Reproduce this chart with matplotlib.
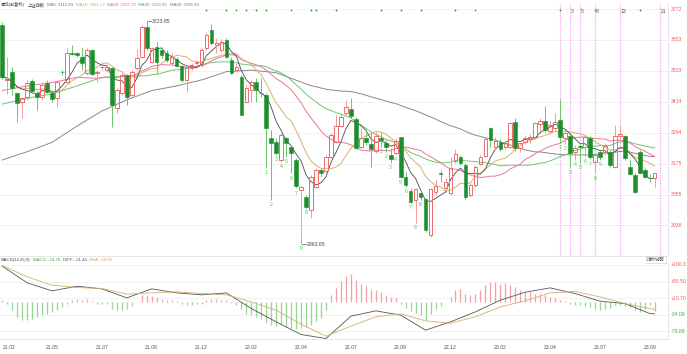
import numpy as np
import pandas as pd
import matplotlib
matplotlib.use("Agg")
import matplotlib.pyplot as plt
from matplotlib.patches import Rectangle
from matplotlib.transforms import blended_transform_factory

plt.rcParams['font.family'] = ['Liberation Sans', 'Noto Sans CJK SC', 'DejaVu Sans']

W, H, DPI = 687, 354, 100

# weekly candles, 上证指数 2021.02 - 2023.09
opens = [3712, 3497, 3530, 3446, 3414, 3434, 3494, 3449, 3434, 3488,
         3449, 3427, 3530, 3491, 3604, 3601, 3588, 3524, 3614, 3524,
         3547, 3537, 3543, 3388, 3446, 3517, 3440, 3543, 3588, 3704,
         3569, 3627, 3614, 3603, 3565, 3578, 3552, 3498, 3543, 3562,
         3556, 3620, 3691, 3633, 3614, 3652, 3575, 3537, 3511, 3414,
         3459, 3491, 3447, 3440, 3273, 3260, 3189, 3273, 3240, 3189,
         3073, 3047, 2996, 3086, 3150, 3148, 3202, 3260, 3320, 3369,
         3385, 3346, 3240, 3273, 3250, 3225, 3273, 3253, 3208, 3217,
         3276, 3125, 3070, 3034, 3063, 3037, 2900, 3067, 3140, 3080,
         3060, 3186, 3199, 3170, 3054, 3092, 3173, 3204, 3311, 3240,
         3260, 3240, 3240, 3337, 3234, 3260, 3269, 3279, 3328, 3341,
         3302, 3311, 3343, 3273, 3282, 3221, 3243, 3240, 3273, 3182,
         3221, 3221, 3221, 3163, 3280, 3282, 3163, 3131, 3221, 3150,
         3120, 3118]
highs = [3720, 3586, 3549, 3453, 3433, 3498, 3500, 3457, 3491, 3498,
         3459, 3498, 3536, 3627, 3633, 3607, 3627, 3620, 3616, 3536,
         3569, 3556, 3549, 3466, 3524, 3521, 3536, 3616, 3710, 3724,
         3627, 3646, 3627, 3614, 3601, 3588, 3556, 3556, 3562, 3575,
         3620, 3684, 3714, 3659, 3655, 3659, 3588, 3562, 3517, 3479,
         3498, 3504, 3504, 3446, 3305, 3273, 3292, 3279, 3247, 3195,
         3089, 3054, 3131, 3157, 3157, 3208, 3292, 3363, 3369, 3421,
         3427, 3356, 3311, 3292, 3292, 3298, 3295, 3266, 3234, 3273,
         3279, 3144, 3079, 3079, 3073, 3041, 3079, 3112, 3150, 3118,
         3202, 3230, 3208, 3176, 3099, 3170, 3208, 3273, 3318, 3276,
         3270, 3260, 3337, 3350, 3260, 3285, 3290, 3335, 3350, 3397,
         3340, 3369, 3423, 3300, 3290, 3247, 3253, 3282, 3282, 3221,
         3228, 3253, 3228, 3324, 3322, 3285, 3191, 3137, 3228, 3157,
         3135, 3140]
lows = [3500, 3445, 3440, 3337, 3350, 3421, 3453, 3382, 3421, 3446,
        3414, 3392, 3517, 3485, 3594, 3588, 3536, 3517, 3517, 3491,
        3536, 3530, 3318, 3369, 3440, 3401, 3434, 3536, 3582, 3614,
        3562, 3524, 3582, 3569, 3556, 3549, 3491, 3453, 3536, 3556,
        3549, 3614, 3633, 3601, 3607, 3582, 3521, 3530, 3363, 3408,
        3414, 3414, 3434, 3157, 3034, 3208, 3182, 3202, 3137, 3079,
        2864, 3002, 2964, 3079, 3125, 3144, 3195, 3253, 3318, 3363,
        3353, 3231, 3234, 3247, 3163, 3215, 3240, 3221, 3176, 3208,
        3118, 3086, 3022, 2947, 3034, 2912, 2893, 3054, 3105, 3067,
        3054, 3176, 3170, 3037, 3047, 3086, 3170, 3199, 3240, 3230,
        3225, 3230, 3234, 3225, 3220, 3250, 3255, 3270, 3300, 3298,
        3290, 3300, 3253, 3250, 3157, 3189, 3176, 3202, 3191, 3137,
        3189, 3208, 3163, 3157, 3260, 3189, 3131, 3060, 3137, 3118,
        3105, 3086]
closes = [3509, 3502, 3466, 3408, 3427, 3485, 3457, 3434, 3479, 3453,
          3423, 3491, 3527, 3601, 3598, 3596, 3562, 3614, 3521, 3530,
          3549, 3549, 3401, 3459, 3517, 3433, 3530, 3582, 3704, 3620,
          3620, 3569, 3594, 3575, 3588, 3553, 3498, 3549, 3556, 3569,
          3614, 3672, 3639, 3639, 3646, 3588, 3526, 3549, 3363, 3466,
          3491, 3459, 3446, 3314, 3253, 3215, 3285, 3253, 3215, 3090,
          3086, 3009, 3125, 3150, 3137, 3199, 3285, 3320, 3354, 3392,
          3359, 3234, 3273, 3260, 3231, 3282, 3266, 3240, 3192, 3264,
          3125, 3092, 3028, 3076, 3045, 2919, 3076, 3089, 3136, 3105,
          3157, 3212, 3176, 3047, 3092, 3160, 3199, 3269, 3266, 3263,
          3230, 3253, 3330, 3234, 3253, 3273, 3279, 3330, 3341, 3305,
          3324, 3337, 3279, 3292, 3215, 3234, 3241, 3276, 3202, 3208,
          3202, 3243, 3170, 3282, 3288, 3195, 3135, 3067, 3140, 3125,
          3118, 3137]

date_labels = ['21.02', '21.05', '21.07', '21.09', '21.12', '22.02', '22.04',
               '22.07', '22.09', '22.12', '23.02', '23.04', '23.07', '23.09']

# MA values at the left edge, read every 5 weeks (before a full window exists)
ma20_early = [3457, 3475, 3488, 3508]
ma30_early = [3405, 3427, 3444, 3475, 3508, 3513]
ma60_early = [3189, 3221, 3257, 3320, 3378, 3421, 3457, 3475, 3498, 3530, 3536, 3526]

# MACD(12,26,9): DIFF / DEA read every 5 weeks (last point = final week)
diff_vals = [97.0, 52.1, 30.5, 43.1, 35.9, 11.7, 35.9, 25.1, 19.8, 25.1, -17.1, -53.0, -87.1,
             -97.9, -37.7, -23.3, -35.0, -75.4, -53.0, -26.0, 5.4, 26.9, 38.6, 23.3, 2.7,
             -3.6, -30.5, -31.44]
dea_vals = [98.8, 68.2, 45.8, 39.5, 36.8, 21.6, 25.1, 27.8, 23.3, 19.8, 0.9, -21.6, -59.3,
            -91.6, -64.7, -39.5, -31.4, -50.3, -56.6, -39.5, -12.6, 3.6, 25.1, 28.7, 14.4,
            -3.6, -17.1, -19.05]
macd_hist = [5.4, -5.4, -21.6, -39.5, -48.5, -46.7, -44.0, -39.5, -35.0, -30.5,
             -26.0, -19.8, -12.6, -3.6, 5.4, 9.9, 7.2, 9.9, 3.6, -5.4,
             -3.6, -5.4, -17.1, -21.6, -19.8, -17.1, -10.8, 0.9, 18.9, 18.9,
             16.2, 14.4, 9.9, 7.2, 5.4, 2.7, -5.4, -8.1, -7.2, -5.4,
             -3.6, 5.4, 9.9, 9.9, 7.2, 5.4, -1.8, -8.1, -17.1, -30.5,
             -35.0, -39.5, -44.0, -55.0, -62.0, -64.0, -62.0, -66.0, -70.0, -72.0,
             -70.0, -68.0, -62.0, -52.0, -42.0, -21.6, 18.9, 39.5, 57.5, 71.8,
             75.4, 59.3, 50.3, 43.1, 34.1, 32.3, 27.8, 19.8, 14.4, 12.6,
             -5.4, -14.4, -24.2, -28.7, -33.2, -46.7, -30.5, -18.0, -9.0, 0.9,
             14.4, 32.3, 35.9, 23.3, 19.8, 23.3, 34.1, 45.8, 54.8, 54.8,
             50.3, 52.1, 45.8, 41.3, 32.3, 27.8, 27.8, 23.3, 23.3, 18.9,
             14.4, 11.7, 7.2, 2.7, -3.6, -8.1, -8.1, -10.8, -12.6, -17.1,
             -21.6, -17.1, -14.4, -8.1, -8.1, -10.8, -12.6, -21.6, -26.0, -17.1,
             -8.1, -24.78]

price_ticks = [3772, 3653, 3533, 3414, 3294, 3175, 3055, 2936]
macd_ticks = [100.3, 55.50, 10.70, -34.09, -78.89]
macd_tick_labels = ['+100.3', '+55.50', '+10.70', '-34.09', '-78.89']

signal_dots = [41, 45, 47, 49, 51, 53, 58, 62, 63, 67, 76, 80, 84, 91, 95, 112, 119, 128]
nine_starts = [53, 76, 112]
fib_start = 111
fib_steps = [1, 3, 5, 8, 13, 21]

legend_main = [('周线(前复权)', '#444444'), ('上证指数', '#444444'), ('MA5: 3112.84', '#777777'),
               ('MA10: 3161.72', '#d2a94e'), ('MA20: 3197.73', '#e8609a'),
               ('MA30: 3230.90', '#4cb84c'), ('MA60: 3196.99', '#777777')]
legend_macd = [('MACD(12,26,9)', '#444444'), ('MACD: -24.78', '#3aa83a'),
               ('DIFF: -31.44', '#555555'), ('DEA: -19.05', '#c9a24e')]

UP = '#f06a6a'
UP_WICK = '#f39a9a'
DN = '#1c8f2c'
DN_WICK = '#6cc46c'
C_MA5, C_MA10, C_MA20, C_MA30, C_MA60 = '#4a4a4a', '#d8b36a', '#ec74a4', '#6cc86c', '#8a8a8a'
GRID = '#efeff2'
FS = 3.7
FS_LEG = 3.1

n = len(closes)
ks = np.arange(n)
cl = pd.Series(closes, dtype=float)

fig = plt.figure(figsize=(W / DPI, H / DPI), dpi=DPI)


def px_axes(x0, y0, x1, y1):
    return fig.add_axes([x0 / W, 1 - y1 / H, (x1 - x0) / W, (y1 - y0) / H])


ax = px_axes(0, 3, 668, 256.4)
ax2 = px_axes(0, 262, 668, 339)
xlim = (-0.46, 133.67)

# ---------- main K-line panel ----------
ax.set_xlim(*xlim)
ax.set_ylim(2816.6, 3795.2)
for v in price_ticks:
    ax.axhline(v, color=GRID, lw=0.6, zorder=0)

for i in range(n):
    o, h, l, c = opens[i], highs[i], lows[i], closes[i]
    if c >= o:
        ax.vlines(i, c, h, color=UP_WICK, lw=0.7, zorder=3)
        ax.vlines(i, l, o, color=UP_WICK, lw=0.7, zorder=3)
        ax.add_patch(Rectangle((i - 0.36, o), 0.72, max(c - o, 1.5), facecolor='none',
                               edgecolor=UP, lw=0.7, zorder=4))
    else:
        ax.vlines(i, l, h, color=DN_WICK, lw=0.7, zorder=3)
        ax.add_patch(Rectangle((i - 0.36, c), 0.72, max(o - c, 1.5), facecolor=DN,
                               edgecolor=DN, lw=0.4, zorder=4))

ma5 = cl.rolling(5, min_periods=1).mean()
ma10 = cl.rolling(10, min_periods=1).mean()
ma20 = cl.rolling(20).mean()
ma30 = cl.rolling(30).mean()
ma60 = cl.rolling(60).mean()


def joined(early, full, win):
    xe = list(range(0, 5 * len(early), 5))
    return xe + list(ks[win - 1:]), list(early) + list(full[win - 1:])


ax.plot(*joined(ma60_early, ma60, 60), color=C_MA60, lw=0.7, zorder=2)
ax.plot(*joined(ma30_early, ma30, 30), color=C_MA30, lw=0.7, zorder=2)
ax.plot(*joined(ma20_early, ma20, 20), color=C_MA20, lw=0.7, zorder=2)
ax.plot(ks, ma10, color=C_MA10, lw=0.7, zorder=2)
ax.plot(ks, ma5, color=C_MA5, lw=0.6, zorder=2)

# right price scale
tr = blended_transform_factory(ax.transAxes, ax.transData)
for v in price_ticks:
    ax.text(1.004, v, str(v), transform=tr, fontsize=FS, color='#f05a5a', va='center', ha='left')

# fibonacci time lines
trx = blended_transform_factory(ax.transData, ax.transAxes)
for s in fib_steps:
    ax.axvline(fib_start + s, color='#f2a0f0', lw=0.9, ls=(0, (1, 1)), zorder=1)
    if s > 1:
        ax.text(fib_start + s + 0.25, 0.966, str(s), transform=trx, fontsize=FS,
                color='#555555', va='center', ha='left')

# signal dots along the top
ax.scatter(signal_dots, [0.9724] * len(signal_dots), transform=trx, s=1.6,
           color='#22a022', zorder=5, linewidths=0)

# magic-nine counts below candles
for st in nine_starts:
    for j in range(9):
        k = st + j
        ax.text(k, lows[k] - 8, str(j + 1), fontsize=FS, ha='center', va='top',
                color='#26b5d6' if j == 8 else '#44d044', zorder=5)

# extreme price marks
kh = int(np.argmax(highs))
kl = int(np.argmin(lows))
ax.plot([kh + 0.15, kh + 0.95], [highs[kh]] * 2, color='#555555', lw=0.5)
ax.text(kh + 1.05, highs[kh], '3723.85', fontsize=FS, color='#444444', va='center', ha='left')
ax.plot([kl + 0.15, kl + 0.95], [lows[kl]] * 2, color='#555555', lw=0.5)
ax.text(kl + 1.05, lows[kl], '2863.65', fontsize=FS, color='#444444', va='center', ha='left')

for name in ['top', 'left']:
    ax.spines[name].set_visible(False)
for name in ['bottom', 'right']:
    ax.spines[name].set_color('#e2e2e6')
    ax.spines[name].set_linewidth(0.6)
ax.set_xticks([])
ax.set_yticks([])

# ---------- MACD panel ----------
ax2.set_xlim(*xlim)
ax2.set_ylim(-99.2, 108.3)
for v in macd_ticks:
    ax2.axhline(v, color=GRID, lw=0.6, zorder=0)
hist = np.array(macd_hist)
ax2.vlines(ks, 0, hist, colors=np.where(hist >= 0, '#f4a0a0', '#95d695'), lw=0.9, zorder=2)
line_x = list(range(0, 131, 5)) + [n - 1]
ax2.plot(line_x, diff_vals, color='#555555', lw=0.6, zorder=3)
ax2.plot(line_x, dea_vals, color='#d2b070', lw=0.6, zorder=3)
tr2 = blended_transform_factory(ax2.transAxes, ax2.transData)
for v, lab in zip(macd_ticks, macd_tick_labels):
    ax2.text(1.004, v, lab, transform=tr2, fontsize=FS, va='center', ha='left',
             color='#f05a5a' if v > 0 else '#3aaa55')
for name in ['top', 'left']:
    ax2.spines[name].set_visible(False)
for name in ['bottom', 'right']:
    ax2.spines[name].set_color('#e2e2e6')
    ax2.spines[name].set_linewidth(0.6)
ax2.set_yticks([])
ax2.set_xticks(range(0, n, 10)[:len(date_labels)])
ax2.set_xticklabels(date_labels, fontsize=FS, color='#555555')
ax2.tick_params(axis='x', length=0, pad=4.2)
ax2.get_xticklabels()[0].set_ha('left')
ax2.get_xticklabels()[0].set_x(-0.46)

# ---------- legends ----------
renderer = fig.canvas.get_renderer()


def text_row(x_px, y_px, parts, gap=2.6):
    x = x_px
    for s, c in parts:
        t = fig.text(x / W, 1 - y_px / H, s, color=c, fontsize=FS_LEG, va='center', ha='left')
        x += t.get_window_extent(renderer).width + gap


text_row(1, 4.8, legend_main)
text_row(1, 260.2, legend_macd)
fig.text(656 / W, 1 - 259.4 / H, '指标说明', fontsize=3.2, color='#555555', ha='center',
         va='center', bbox=dict(boxstyle='square,pad=0.25', facecolor='white',
                                edgecolor='#cccccc', lw=0.4))

fig.savefig('out.png', dpi=DPI, facecolor='white')
